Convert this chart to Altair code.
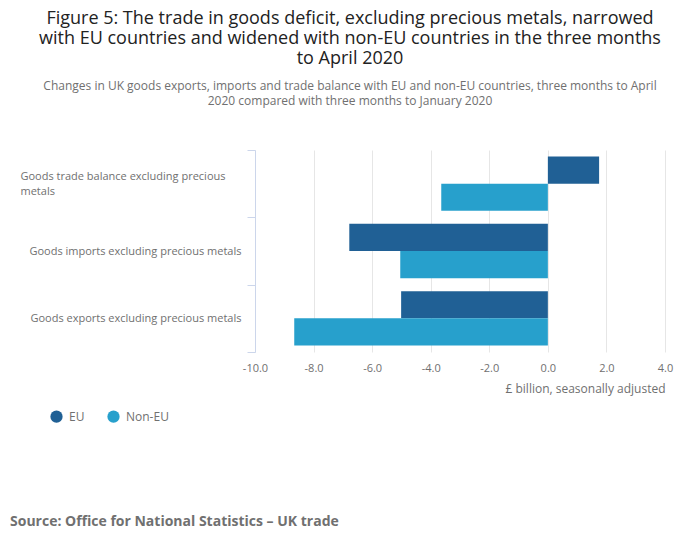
import altair as alt
import pandas as pd

categories = [
    "Goods trade balance excluding precious metals",
    "Goods imports excluding precious metals",
    "Goods exports excluding precious metals",
]
series = ["EU", "Non-EU"]
eu_values = [1.75, -6.78, -5.01]
non_eu_values = [-3.64, -5.04, -8.66]
colors = ["#206095", "#27a0cc"]
x_ticks = [-10, -8, -6, -4, -2, 0, 2, 4]

rows = []
for c, e, n in zip(categories, eu_values, non_eu_values):
    rows.append({"category": c, "series": "EU", "value": e})
    rows.append({"category": c, "series": "Non-EU", "value": n})
df = pd.DataFrame(rows)

FONT = "Open Sans"
LONG = "Goods trade balance excluding precious metals"
test = f"datum.value == '{LONG}'"

label_expr = (
    f"datum.label == '{LONG}' ? "
    "['Goods trade balance excluding precious', 'metals'] : datum.label"
)

bars = alt.Chart(df).mark_bar().encode(
    x=alt.X(
        "value:Q",
        scale=alt.Scale(domain=[-10, 4], nice=False),
        axis=alt.Axis(
            values=x_ticks,
            labelExpr="replace(format(datum.value, '.1f'), '\u2212', '-')",
            labelFlush=False,
            title="£ billion, seasonally adjusted",
            titleAnchor="end",
            titleFont=FONT,
            titleFontSize=12,
            titleFontWeight="normal",
            titleColor="#707070",
            titlePadding=10,
            labelFont=FONT,
            labelFontSize=11,
            labelColor="#707070",
            labelPadding=10,
            domain=False,
            ticks=False,
            grid=True,
            gridColor="#e6e6e6",
        ),
    ),
    y=alt.Y(
        "category:N",
        sort=categories,
        scale=alt.Scale(paddingInner=0, paddingOuter=0),
        axis=alt.Axis(
            title=None,
            labelExpr=label_expr,
            labelAlign={"condition": {"test": test, "value": "left"}, "value": "right"},
            labelPadding={"condition": {"test": test, "value": 227}, "value": 6},
            labelOffset={"condition": {"test": test, "value": -7}, "value": 0},
            labelFont=FONT,
            labelFontSize=11,
            labelColor="#707070",
            labelLineHeight=15,
            labelLimit=300,
            domainColor="#ccd6eb",
            tickColor="#ccd6eb",
            tickSize=8,
            tickBand="extent",
            grid=False,
        ),
    ),
    yOffset=alt.YOffset(
        "series:N",
        sort=series,
        scale=alt.Scale(paddingOuter=0.24, paddingInner=0),
    ),
    color=alt.Color(
        "series:N",
        sort=series,
        scale=alt.Scale(domain=series, range=colors),
        legend=alt.Legend(
            title=None,
            orient="none",
            direction="horizontal",
            legendX=-205,
            legendY=260,
            symbolType="circle",
            symbolSize=150,
            symbolStrokeWidth=0,
            labelFont=FONT,
            labelFontSize=12,
            labelColor="#707070",
            labelOffset=6,
            columnPadding=22,
            padding=0,
        ),
    ),
)

source_df = pd.DataFrame({"t": ["Source: Office for National Statistics \u2013 UK trade"]})
source = alt.Chart(source_df).mark_text(
    align="left", baseline="middle", font=FONT, fontSize=14, fontWeight="bold", color="#707070"
).encode(
    text="t:N",
    x=alt.value(-245),
    y=alt.value(372),
)

chart = alt.layer(bars, source).properties(
    width=410,
    height=202,
    padding={"left": 247, "top": 142, "right": 27, "bottom": 189},
    autosize=alt.AutoSizeParams(type="none"),
    title=alt.Title(
        text=[
            "Figure 5: The trade in goods deficit, excluding precious metals, narrowed",
            "with EU countries and widened with non-EU countries in the three months",
            "to April 2020",
        ],
        subtitle=[
            "Changes in UK goods exports, imports and trade balance with EU and non-EU countries, three months to April",
            "2020 compared with three months to January 2020",
        ],
        anchor="middle",
        dx=-110,
        font=FONT,
        fontSize=18,
        fontWeight="normal",
        color="#222222",
        lineHeight=20,
        subtitleFont=FONT,
        subtitleFontSize=12,
        subtitleColor="#707070",
        subtitleLineHeight=15,
        subtitlePadding=13,
        offset=37,
    ),
).configure_view(stroke=None)

chart.save("out.html", embed_options={"renderer": "svg", "actions": False})
